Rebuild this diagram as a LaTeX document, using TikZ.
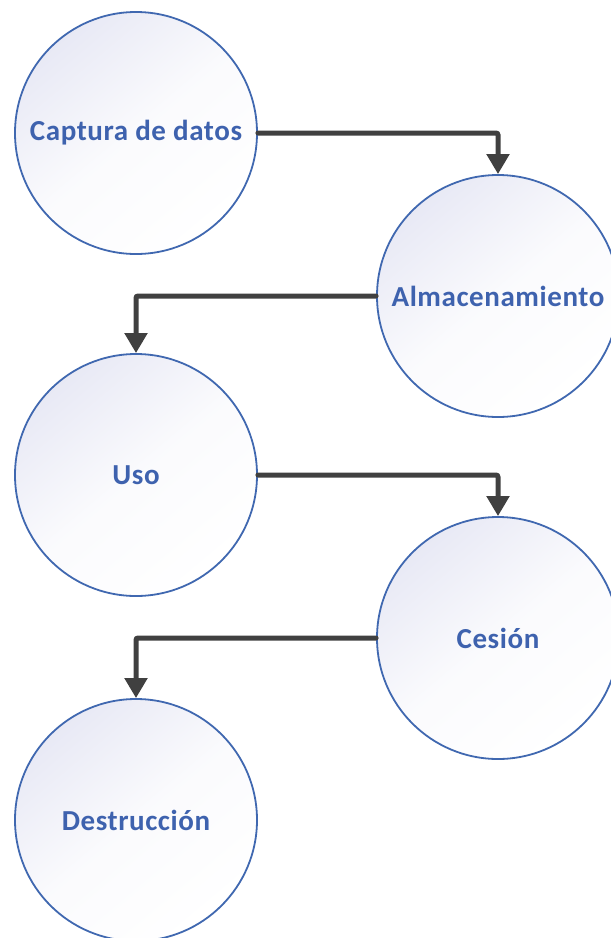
\documentclass[tikz,border=0pt]{standalone}
\usepackage{fontspec}
\setmainfont{Carlito}[LetterSpace=2]
\usetikzlibrary{arrows.meta}
\definecolor{ringblue}{HTML}{4068B0}
\definecolor{textblue}{HTML}{3E62AE}
\definecolor{fillhi}{HTML}{E8E9F5}
\definecolor{linkgray}{HTML}{404040}
\tikzset{
  stage/.style={circle, minimum size=242pt, inner sep=0pt, draw=ringblue, line width=1.8pt,
    top color=fillhi, bottom color=white, middle color=white!80!fillhi, shading angle=40,
    font=\fontsize{29}{33}\selectfont\bfseries, text=textblue},
  link/.style={draw=linkgray, line width=5pt, line cap=round, rounded corners=2pt,
    -{Triangle[length=20pt,width=22pt]}}
}
\begin{document}
\begin{tikzpicture}[x=1pt,y=-1pt]
\useasboundingbox (0,0) rectangle (611,938);
\clip (0,0) rectangle (611,938);
\node[stage] (cap) at (136,133) {Captura de datos};
\node[stage] (alm) at (498,296) {Almacenamiento};
\node[stage] (uso) at (136,475) {Uso};
\node[stage] (ces) at (498,638) {Cesión};
\node[stage] (des) at (136,820) {Destrucción};
\draw[link] (cap.east) -| (alm.north);
\draw[link] (alm.west) -| (uso.north);
\draw[link] (uso.east) -| (ces.north);
\draw[link] (ces.west) -| (des.north);
\end{tikzpicture}
\end{document}
